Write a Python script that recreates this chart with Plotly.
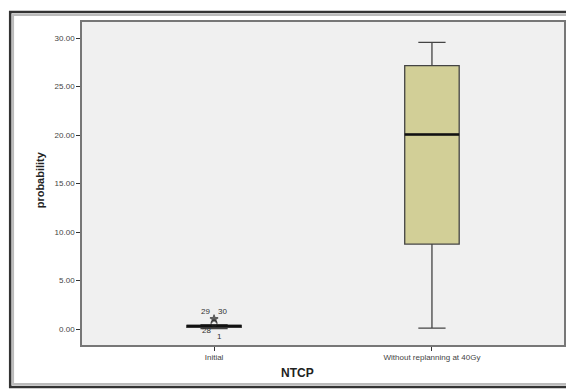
import plotly.graph_objects as go

categories = ["Initial", "Without replanning at 40Gy"]
q1 = [0.18, 8.75]
median = [0.30, 20.05]
q3 = [0.36, 27.15]
lower_whisker = [0.05, 0.10]
upper_whisker = [0.45, 29.55]

outlier_values = [0.60, 1.03]
outlier_symbols = ["circle-open", "star"]
outlier_labels = [["28", "1"], ["29", "30"]]

y_ticks = [0, 5, 10, 15, 20, 25, 30]

xpos = [0, 1]
fig = go.Figure()
fig.add_trace(go.Box(
    x=xpos, q1=q1, median=median, q3=q3,
    lowerfence=lower_whisker, upperfence=upper_whisker,
    width=0.25, whiskerwidth=0.5,
    fillcolor="#d2cf97", line=dict(color="#444444", width=1.3),
    marker=dict(color="#222222"), boxpoints=False, showlegend=False,
))
for xi, m in zip(xpos, median):
    fig.add_trace(go.Scatter(x=[xi - 0.125, xi + 0.125], y=[m, m], mode="lines",
                             line=dict(color="#111111", width=2.5), showlegend=False,
                             hoverinfo="skip"))
fig.add_trace(go.Scatter(x=[0, 0], y=outlier_values, mode="markers",
                         marker=dict(symbol=outlier_symbols, size=[6, 6], color="#222222",
                                     line=dict(color="#222222", width=1.2)),
                         showlegend=False))
lab_offsets = [[(-0.035, -0.8), (0.025, -1.4)], [(-0.037, 0.75), (0.04, 0.75)]]
for v, labs, offs in zip(outlier_values, outlier_labels, lab_offsets):
    for lab, (dx, dy) in zip(labs, offs):
        fig.add_annotation(x=0 + dx, y=v + dy, text=lab,
                           showarrow=False, font=dict(size=8, color="#333333",
                                                      family="Liberation Sans, Arial"))

fig.update_layout(
    width=566, height=390,
    margin=dict(l=82, r=2, t=22, b=45),
    paper_bgcolor="white", plot_bgcolor="#f0f0f0",
    font=dict(family="Liberation Sans, Arial", color="#333333"),
    xaxis=dict(range=[-0.606, 1.606], tickvals=xpos, ticktext=categories,
               ticks="outside", ticklen=4, tickcolor="#333333", automargin=False,
               tickfont=dict(size=8, color="#444444"),
               showgrid=False, zeroline=False, showline=True, linecolor="#777777",
               linewidth=1.5, mirror=True),
    yaxis=dict(range=[-1.65, 31.65], tickvals=y_ticks,
               ticktext=[f"{t:.2f}" for t in y_ticks],
               ticks="outside", ticklen=4, tickcolor="#333333", automargin=False,
               tickfont=dict(size=8, color="#444444"),
               showgrid=False, zeroline=False, showline=True, linecolor="#777777",
               linewidth=1.5, mirror=True),
)
fig.add_annotation(xref="paper", yref="paper", x=0.448, y=-0.087, text="<b>NTCP</b>",
                   xanchor="center", yanchor="middle",
                   showarrow=False, font=dict(size=12, color="#222222"))
fig.add_annotation(xref="paper", yref="paper", x=-0.087, y=0.51, text="<b>probability</b>",
                   xanchor="center", yanchor="middle",
                   textangle=-90, showarrow=False, font=dict(size=11, color="#222222"))
fig.add_shape(type="rect", xref="paper", yref="paper", x0=-0.149, x1=1.03, y0=-0.130, y1=1.031,
              line=dict(color="#333333", width=2.5), layer="below")
fig.add_shape(type="rect", xref="paper", yref="paper", x0=-0.143, x1=1.03, y0=-0.121, y1=1.022,
              line=dict(color="#bbbbbb", width=2), layer="below")
fig.write_html("out.html", config={"displayModeBar": False},
               post_script="document.body.style.margin='0';document.body.style.overflow='hidden';")
